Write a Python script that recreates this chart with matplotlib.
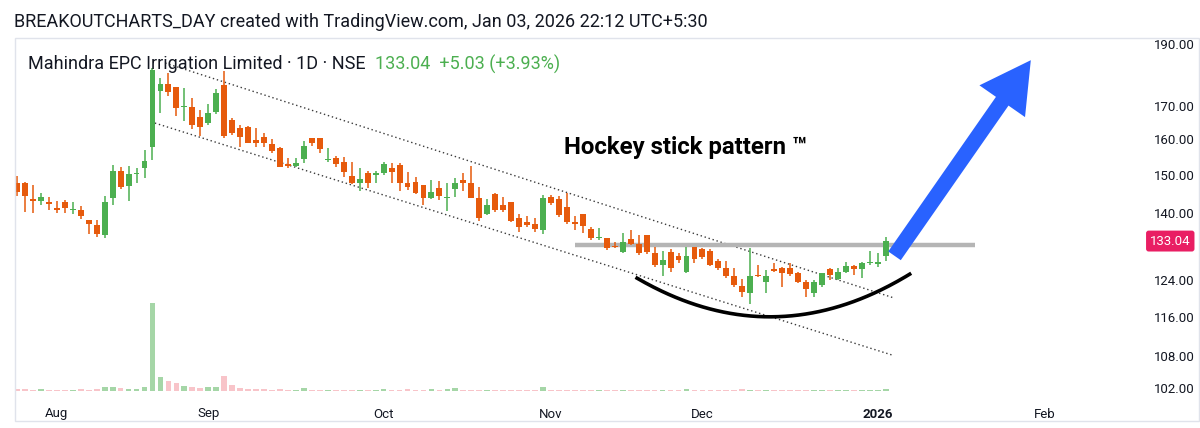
import numpy as np
import matplotlib.pyplot as plt
from matplotlib.patches import FancyArrowPatch, Rectangle
from matplotlib.ticker import NullLocator
from matplotlib.transforms import blended_transform_factory

plt.rcParams['font.family'] = ['Roboto', 'DejaVu Sans']

# Daily bars, late Jul 2025 .. 2 Jan 2026 (bar index 0..109), log price scale
opens = [147.7, 147.7, 143.6, 143.1, 142.8, 141.3, 142.7, 140.7, 140.7, 138.2,
         137.0, 134.6, 143.8, 151.1, 147.0, 150.3, 151.8, 157.6, 174.6, 176.8,
         175.7, 169.5, 169.5, 166.6, 164.6, 167.9, 176.5, 165.6, 163.1, 163.6,
         159.7, 160.7, 158.6, 157.3, 153.0, 152.4, 154.3, 160.3, 160.2, 154.0,
         154.7, 153.6, 149.7, 147.8, 150.4, 149.9, 150.4, 151.8, 152.7, 147.8,
         148.1, 147.2, 143.7, 146.5, 143.7, 146.1, 148.6, 147.7, 143.7, 139.7,
         144.8, 142.0, 142.7, 138.6, 137.6, 137.2, 135.7, 144.1, 143.6, 141.4,
         137.8, 139.6, 135.9, 133.7, 133.7, 131.9, 130.5, 133.5, 132.3, 134.5,
         130.1, 127.4, 130.5, 129.6, 125.7, 131.5, 131.1, 130.7, 128.4, 126.6,
         124.8, 122.7, 121.1, 125.1, 123.6, 126.5, 126.6, 126.6, 125.6, 123.6,
         121.1, 122.9, 126.4, 124.2, 125.9, 127.2, 126.4, 127.8, 127.6, 129.5]
highs = [149.6, 148.0, 147.2, 145.2, 144.1, 143.1, 143.3, 142.8, 141.8, 138.3,
         138.3, 144.4, 152.7, 152.2, 152.4, 151.8, 156.9, 181.9, 178.6, 180.2,
         175.9, 175.4, 172.4, 168.6, 170.4, 175.1, 180.9, 166.2, 164.1, 163.8,
         163.1, 161.7, 160.0, 157.8, 154.5, 154.5, 159.5, 160.4, 160.2, 157.3,
         155.3, 155.0, 153.4, 151.8, 151.1, 151.0, 153.6, 153.1, 153.3, 150.7,
         149.3, 147.3, 148.6, 148.4, 147.7, 149.0, 150.6, 152.4, 146.8, 143.5,
         145.1, 144.1, 142.9, 139.6, 139.3, 138.6, 144.6, 144.6, 144.4, 145.2,
         139.1, 139.7, 136.5, 136.1, 133.8, 132.7, 134.9, 135.7, 134.5, 134.6,
         131.7, 130.6, 131.1, 130.1, 131.7, 131.7, 131.3, 131.1, 128.7, 128.4,
         126.6, 124.2, 131.3, 127.4, 126.3, 127.8, 126.9, 127.8, 125.9, 124.0,
         124.0, 125.6, 126.6, 126.6, 128.2, 127.4, 128.2, 130.7, 130.2, 134.1]
lows = [144.4, 140.2, 140.0, 141.9, 140.7, 139.9, 140.0, 139.7, 138.4, 134.8,
        134.0, 133.7, 141.9, 146.2, 143.0, 147.7, 149.2, 154.0, 167.6, 173.0,
        166.8, 165.3, 162.8, 160.9, 164.1, 167.4, 160.2, 161.2, 157.8, 158.9,
        157.6, 157.8, 155.9, 152.0, 151.8, 152.2, 153.3, 158.1, 155.9, 153.6,
        152.2, 149.3, 147.4, 145.7, 146.4, 147.7, 149.9, 147.7, 145.7, 145.9,
        144.9, 141.9, 143.5, 143.3, 140.6, 144.1, 145.7, 143.7, 138.0, 139.5,
        140.1, 140.1, 137.8, 135.3, 136.5, 135.3, 134.8, 141.9, 138.9, 137.2,
        135.7, 134.9, 133.4, 133.4, 130.9, 131.3, 130.3, 132.1, 129.7, 130.0,
        127.0, 124.8, 125.9, 127.8, 125.6, 127.9, 128.7, 127.2, 126.3, 124.4,
        122.5, 120.3, 118.7, 124.7, 121.2, 125.9, 122.4, 124.8, 123.3, 120.3,
        120.3, 122.5, 124.0, 124.0, 125.6, 125.1, 124.4, 127.5, 127.0, 128.4]
closes = [145.3, 144.4, 143.1, 144.1, 142.2, 140.7, 141.3, 141.0, 139.3, 137.1,
          134.8, 142.9, 151.1, 146.8, 150.2, 150.5, 153.9, 181.3, 176.8, 174.3,
          169.2, 169.9, 164.1, 163.6, 167.6, 174.0, 160.9, 161.9, 160.5, 159.0,
          158.8, 158.8, 156.7, 152.2, 152.4, 153.3, 158.0, 159.0, 157.1, 154.3,
          152.9, 150.7, 147.8, 148.8, 147.7, 150.6, 152.9, 150.8, 147.8, 146.8,
          145.2, 143.7, 145.5, 144.3, 144.1, 147.8, 147.7, 143.9, 138.6, 142.0,
          140.7, 140.7, 138.0, 136.4, 137.0, 135.9, 143.9, 142.5, 139.5, 137.6,
          137.3, 136.7, 133.7, 133.9, 131.3, 131.6, 132.9, 132.3, 130.3, 130.5,
          127.4, 128.6, 126.6, 128.6, 129.5, 128.7, 129.2, 127.4, 126.6, 124.8,
          122.9, 121.3, 124.8, 124.9, 124.8, 126.1, 125.6, 125.3, 123.6, 121.9,
          123.6, 125.5, 125.1, 125.9, 127.2, 126.4, 127.8, 128.2, 128.01, 133.04]
volumes = [2, 2, 1, 2, 1, 1, 1, 1, 2, 1,
           2, 5, 4, 3, 2, 2, 4, 100, 16, 11,
           9, 6, 5, 3, 4, 5, 17, 7, 3, 2,
           2, 2, 1, 2, 1, 1, 3, 1, 1, 1,
           1, 1, 1, 1, 1, 1, 2, 1, 1, 2,
           1, 1, 2, 1, 2, 3, 1, 1, 1, 1,
           1, 1, 1, 1, 1, 1, 4, 1, 1, 1,
           1, 1, 1, 1, 1, 1, 1, 1, 1, 1,
           1, 1, 1, 1, 2, 1, 1, 1, 1, 1,
           1, 2, 1, 1, 1, 1, 1, 1, 1, 1,
           1, 1, 1, 1, 1, 1, 1, 1, 1, 2]

month_pos = [5, 24, 46, 67, 86, 108, 129]
month_labels = ["Aug", "Sep", "Oct", "Nov", "Dec", "2026", "Feb"]
price_ticks = [102, 108, 116, 124, 140, 150, 160, 170, 190]
last_price = 133.04

# drawings (bar index, price)
upper_channel = ([18.6, 109.9], [183.6, 120.1])
lower_channel = ([17.3, 109.9], [164.7, 108.2])
resistance = ([70.0, 120.2], [132.2, 132.2])
arc_pts = ([77.8, 94.5, 112.0], [124.4, 116.0, 125.3])
arrow_from, arrow_to = (109.9, 129.0), (127.4, 185.3)

GREEN = "#4caf50"
ORANGE = "#e65a0c"
TEXT = "#131722"

W, H = 1200, 428


def fig_box(x0, y0, x1, y1):
    return [x0 / W, 1 - y1 / H, (x1 - x0) / W, (y1 - y0) / H]


fig = plt.figure(figsize=(W / 100, H / 100), dpi=100)
fig.patches.append(Rectangle((15 / W, 1 - 421 / H), 1184 / W, 383 / H,
                             transform=fig.transFigure, fill=False,
                             ec="#e0e3eb", lw=1))

idx = np.arange(len(closes))
o, h, l, c = (np.array(a) for a in (opens, highs, lows, closes))
up = c >= o

# volume overlay (behind the candles)
axv = fig.add_axes(fig_box(15, 303, 1140, 391))
axv.bar(idx, volumes, width=0.72, color=np.where(up, "#a5d6a7", "#f8c4c9"),
        linewidth=0)
axv.set_xlim(-0.25, 140.9)
axv.set_ylim(0, 100)
axv.axis("off")

ax = fig.add_axes(fig_box(15, 38, 1140, 395))
ax.set_facecolor("none")
ax.set_yscale("log")
ax.set_xlim(-0.25, 140.9)
ax.set_ylim(100.7, 192.1)
for s in ax.spines.values():
    s.set_visible(False)

cols = np.where(up, GREEN, ORANGE)
ax.vlines(idx, l, h, colors=cols, lw=1.1, zorder=3)
ax.bar(idx, np.maximum(np.abs(c - o), 0.3), bottom=np.minimum(o, c),
       width=0.74, color=cols, linewidth=0, zorder=4)

# channel, resistance, cup
ax.plot(*upper_channel, ls=(0, (1, 2)), color="#3a3a3a", lw=1, zorder=2)
ax.plot(*lower_channel, ls=(0, (1, 2)), color="#3a3a3a", lw=1, zorder=2)
ax.plot(*resistance, color="#b5b5b5", lw=3.2, solid_capstyle="butt", zorder=2)
coef = np.polyfit(arc_pts[0], np.log(arc_pts[1]), 2)
xs = np.linspace(arc_pts[0][0], arc_pts[0][-1], 200)
ax.plot(xs, np.exp(np.polyval(coef, xs)), color="black", lw=2.6, zorder=5)

ax.add_patch(FancyArrowPatch(arrow_from, arrow_to, mutation_scale=1,
                             arrowstyle="simple,head_width=40,head_length=36,tail_width=11",
                             color="#2962ff", lw=0, zorder=6))

ax.text(83.9, 157.7, "Hockey stick pattern \u2122", ha="center", va="center",
        fontsize=17.3, fontweight="bold", color="black")

# axes labels
ax.set_xticks(month_pos)
ax.set_xticklabels(month_labels)
ax.get_xticklabels()[5].set_fontweight("bold")
ax.tick_params(axis="x", length=0, pad=9, labelsize=9.5, colors=TEXT)
ax.yaxis.tick_right()
ax.set_yticks(price_ticks)
ax.set_yticklabels([f"{v:.2f}" for v in price_ticks])
ax.yaxis.set_minor_locator(NullLocator())
ax.tick_params(axis="y", length=0, pad=10, labelsize=9.5, colors=TEXT)

tr = blended_transform_factory(ax.transAxes, ax.transData)
ax.text(1.0089, last_price, f"{last_price:.2f}", transform=tr, ha="left",
        va="center", color="white", fontsize=9.5, clip_on=False,
        bbox=dict(boxstyle="round,pad=0.3,rounding_size=0.2", fc="#e91e63", ec="none"))

fig.text(14 / W, 1 - 22 / H,
         "BREAKOUTCHARTS_DAY created with TradingView.com, Jan 03, 2026 22:12 UTC+5:30",
         fontsize=13, color=TEXT, va="center")
name = fig.text(28 / W, 1 - 64 / H, "Mahindra EPC Irrigation Limited \u00b7 1D \u00b7 NSE",
                fontsize=13, color=TEXT, va="center")
ax.annotate("133.04  +5.03 (+3.93%)", xy=(1, 0.5), xycoords=name,
            xytext=(7, 0), textcoords="offset points", fontsize=13,
            color=GREEN, va="center", annotation_clip=False)

fig.savefig("out.png", dpi=100)
